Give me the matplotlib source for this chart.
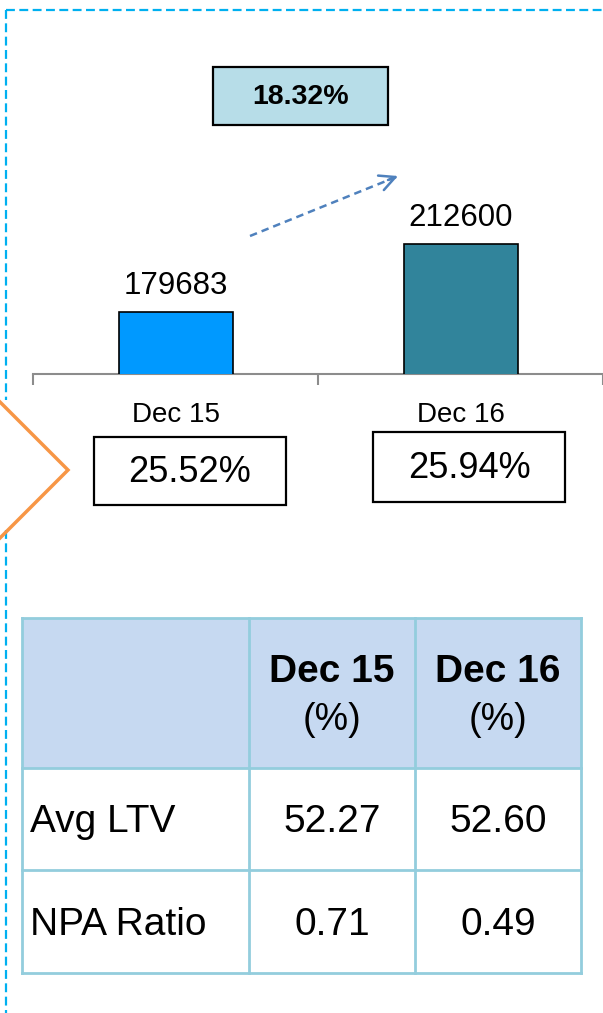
import matplotlib.pyplot as plt
from matplotlib.patches import Rectangle

plt.rcParams['font.family'] = ['Liberation Sans', 'DejaVu Sans']

# data
categories = ['Dec 15', 'Dec 16']
balances = [179683, 212600]
bar_colors = ['#0099ff', '#31849b']
growth_label = '18.32%'
share_labels = ['25.52%', '25.94%']

table_cols = ['Dec 15', 'Dec 16']
table_rows = ['Avg LTV', 'NPA Ratio']
table_values = [['52.27', '52.60'],
                ['0.71', '0.49']]

W, H = 603, 1013
fig = plt.figure(figsize=(W / 100, H / 100), dpi=100)

# bar chart
ax = fig.add_axes([33 / W, 1 - 374 / H, 570 / W, 274 / H])
x = list(range(len(categories)))
bars = ax.bar(x, balances, width=0.4, color=bar_colors, edgecolor='black', linewidth=1.2, zorder=3)
ax.bar_label(bars, labels=[str(v) for v in balances], padding=8, fontsize=22.5)
ax.set_xlim(-0.5, 1.5)
ax.set_ylim(149700, 282300)
ax.set_yticks([])
for s in ['left', 'top', 'right']:
    ax.spines[s].set_visible(False)
ax.spines['bottom'].set_color('#8c8c8c')
ax.spines['bottom'].set_linewidth(1.5)
ax.set_xticks([-0.5, 0.5, 1.5])
ax.set_xticklabels([])
ax.tick_params(axis='x', which='major', direction='out', length=8, color='#8c8c8c', width=1.5)
ax.set_xticks(x, minor=True)
ax.set_xticklabels(categories, minor=True, fontsize=20)
ax.tick_params(axis='x', which='minor', length=0, pad=20)

# overlay in pixel coordinates
ov = fig.add_axes([0, 0, 1, 1])
ov.set_xlim(0, W)
ov.set_ylim(H, 0)
ov.axis('off')

# dashed frame
frame_kw = dict(color='#00b0f0', lw=1.6, linestyle=(0, (4, 2)))
ov.plot([6, W], [10, 10], **frame_kw)
ov.plot([6, 6], [10, 400], **frame_kw)
ov.plot([6, 6], [530, H], **frame_kw)

# orange chevron
ov.plot([0, 68, 0], [402, 470, 538], color='#f79646', lw=2.5, solid_joinstyle='miter')

# growth box + arrow
ov.add_patch(Rectangle((213, 67), 175, 58, facecolor='#b7dde8', edgecolor='black', lw=1.6))
ov.text(300.5, 97, growth_label, ha='center', va='center', fontsize=20.5, fontweight='bold')
ov.plot([250, 396], [236, 177], color='#4f81bd', lw=1.8, linestyle=(0, (3, 2)))
ov.annotate('', xy=(398, 176), xytext=(388, 180),
            arrowprops=dict(arrowstyle='->', color='#4f81bd', lw=1.8, mutation_scale=28,
                            shrinkA=0, shrinkB=0))

# share boxes
share_boxes = [(94, 437, 192, 68), (373, 432, 192, 70)]
for (bx, by, bw, bh), lab in zip(share_boxes, share_labels):
    ov.add_patch(Rectangle((bx, by), bw, bh, facecolor='white', edgecolor='black', lw=1.6))
    ov.text(bx + bw / 2, by + bh / 2 + 1, lab, ha='center', va='center', fontsize=26)

# table
col_edges = [22, 249, 415, 581]
row_edges = [618, 768, 870, 973]
border = '#93cddd'
ov.add_patch(Rectangle((col_edges[0], row_edges[0]), col_edges[-1] - col_edges[0],
                       row_edges[1] - row_edges[0], facecolor='#c6d9f1', edgecolor='none'))
for cx in col_edges:
    ov.plot([cx, cx], [row_edges[0], row_edges[-1]], color=border, lw=2)
for ry in row_edges:
    ov.plot([col_edges[0], col_edges[-1]], [ry, ry], color=border, lw=2)

for j, name in enumerate(table_cols):
    cx = (col_edges[j + 1] + col_edges[j + 2]) / 2
    ov.text(cx, 672, name, ha='center', va='center', fontsize=28, fontweight='bold')
    ov.text(cx, 720, '(%)', ha='center', va='center', fontsize=27)

for i, name in enumerate(table_rows):
    cy = (row_edges[i + 1] + row_edges[i + 2]) / 2 + 3
    ov.text(30, cy, name, ha='left', va='center', fontsize=28)
    for j in range(len(table_cols)):
        cx = (col_edges[j + 1] + col_edges[j + 2]) / 2
        ov.text(cx, cy, table_values[i][j], ha='center', va='center', fontsize=28)

fig.savefig('out.png', dpi=100)
